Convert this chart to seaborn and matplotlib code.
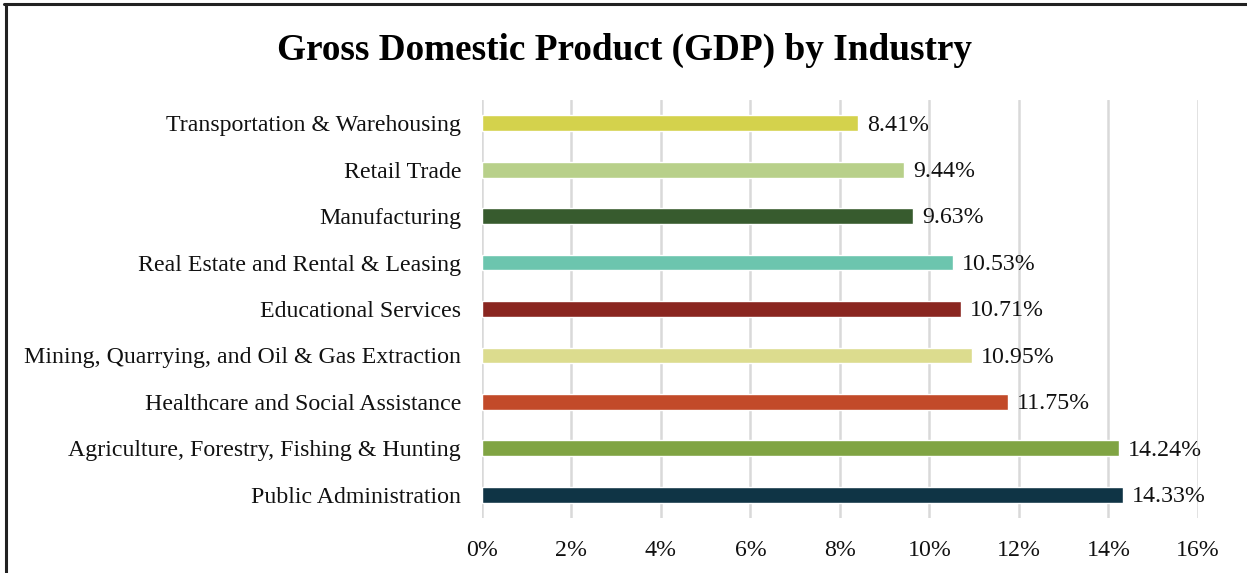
import matplotlib
matplotlib.use("Agg")
import matplotlib.pyplot as plt
from matplotlib.lines import Line2D
from matplotlib.ticker import FuncFormatter
import seaborn as sns
import pandas as pd

industries = [
    "Transportation & Warehousing",
    "Retail Trade",
    "Manufacturing",
    "Real Estate and Rental & Leasing",
    "Educational Services",
    "Mining, Quarrying, and Oil & Gas Extraction",
    "Healthcare and Social Assistance",
    "Agriculture, Forestry, Fishing & Hunting",
    "Public Administration",
]
shares = [8.41, 9.44, 9.63, 10.53, 10.71, 10.95, 11.75, 14.24, 14.33]
colors = [
    "#D4D24C", "#B8D08A", "#375B2E", "#6CC5AE", "#8A2620",
    "#DCDC8E", "#C24A29", "#80A443", "#0F3445",
]
x_ticks = [0, 2, 4, 6, 8, 10, 12, 14, 16]

df = pd.DataFrame({"industry": industries, "share": shares})

sns.set_theme(style="white")
plt.rcParams["font.family"] = ["Liberation Serif", "DejaVu Serif"]

fig = plt.figure(figsize=(12.47, 5.73), dpi=100)
ax = fig.add_axes([0.3865, 0.096, 0.5742, 0.7295])

sns.barplot(
    data=df, x="share", y="industry", hue="industry",
    palette=colors, saturation=1, orient="h", width=0.34, legend=False,
    ax=ax, zorder=3,
)

ax.set_xlim(0, 16)
ax.set_ylim(len(industries) - 0.5, -0.5)
ax.set_xticks(x_ticks)
ax.xaxis.set_major_formatter(FuncFormatter(lambda v, _: f"{v:.0f}%"))
ax.grid(axis="x", color="#D9D9D9", linewidth=1.8, zorder=0)
ax.grid(axis="y", visible=False)
for s in ax.spines.values():
    s.set_visible(False)
ax.set_xlabel("")
ax.set_ylabel("")
ax.tick_params(axis="both", length=0, labelsize=17.2, colors="#111111")
ax.tick_params(axis="x", pad=16)
ax.tick_params(axis="y", pad=15)

for i, v in enumerate(shares):
    ax.text(v + 0.2, i + 0.04, f"{v:.2f}%", va="center", ha="left",
            fontsize=17.2, color="#111111")

fig.text(0.501, 0.912, "Gross Domestic Product (GDP) by Industry",
         ha="center", va="center", fontsize=26.8, fontweight="bold",
         color="black")

# frame edges along the top and left of the figure
fig.add_artist(Line2D([0.0045, 0.0045], [0.0, 0.993], transform=fig.transFigure,
                      color="#222222", linewidth=2.2))
fig.add_artist(Line2D([0.0035, 1.0], [0.993, 0.993], transform=fig.transFigure,
                      color="#222222", linewidth=2.2))

fig.savefig("out.png", dpi=100)
